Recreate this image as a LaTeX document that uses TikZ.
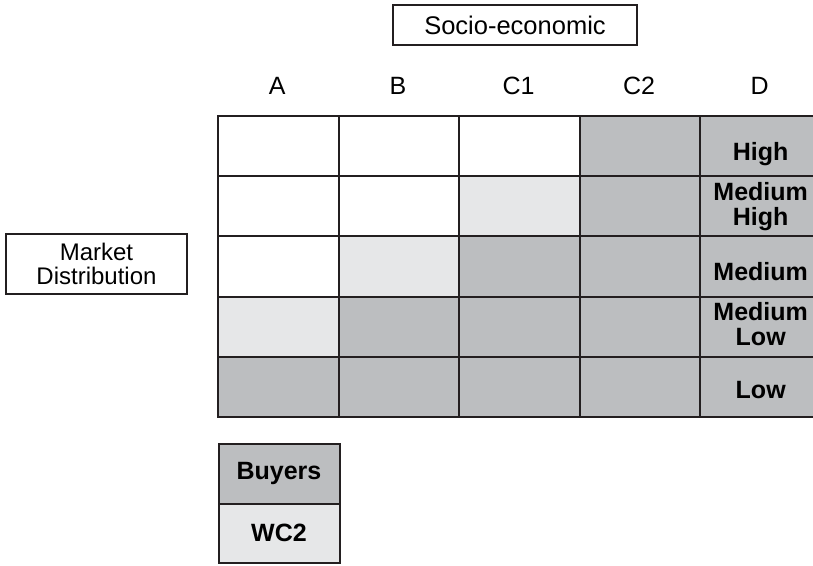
\documentclass[tikz,border=0pt]{standalone}
\usepackage{fontspec}
\setmainfont{Liberation Sans}
\definecolor{dk}{HTML}{BCBEC0}
\definecolor{lt}{HTML}{E6E7E8}
\definecolor{ln}{HTML}{231F20}
\begin{document}
\begin{tikzpicture}[x=1pt,y=-1pt,
  cell/.style={draw=ln, line width=2pt, minimum width=120.6pt, minimum height=60.2pt,
    inner sep=0pt, anchor=north west},
  dlab/.style={anchor=base, font=\fontsize{25}{25}\selectfont\bfseries},
  dlab2/.style={anchor=center, align=center, inner sep=0pt, font=\fontsize{25}{25}\selectfont\bfseries},
  lbox/.style={draw=ln, line width=1.3pt, inner sep=0pt, align=center,
    font=\fontsize{24}{24}\selectfont},
  collab/.style={anchor=base, font=\fontsize{25}{25}\selectfont},
  keybox/.style={draw=ln, line width=2pt, minimum width=121pt, minimum height=59.5pt,
    inner sep=0pt, anchor=north west, font=\fontsize{25}{25}\selectfont\bfseries}]
\useasboundingbox (0,0) rectangle (813,565);
\clip (0,0) rectangle (813,565);
% grid cells
\foreach \r/\c/\f in {0/0/white,0/1/white,0/2/white,0/3/dk,0/4/dk,
                      1/0/white,1/1/white,1/2/lt,1/3/dk,1/4/dk,
                      2/0/white,2/1/lt,2/2/dk,2/3/dk,2/4/dk,
                      3/0/lt,3/1/dk,3/2/dk,3/3/dk,3/4/dk,
                      4/0/dk,4/1/dk,4/2/dk,4/3/dk,4/4/dk}
  \node[cell, fill=\f] (c\r\c) at ({217+120.6*\c},{115+60.2*\r}) {};
% row labels in column D
\node[dlab] (lh)  at ([yshift=-14pt]c04.center) {High};
\node[dlab2] (lmh) at (c14.center) {Medium\\High};
\node[dlab] (lm)  at ([yshift=-14pt]c24.center) {Medium};
\node[dlab2] (lml) at ([yshift=3pt]c34.center) {Medium\\Low};
\node[dlab] (ll)  at ([yshift=-12pt]c44.center) {Low};
% column headings
\foreach \c/\t in {0/A,1/B,2/C1,3/C2,4/D}
  \node[collab] (h\c) at ({277.3+120.6*\c},94) {\t};
% axis labels
\node[lbox, minimum width=244pt, minimum height=40pt, font=\fontsize{25.5}{25.5}\selectfont] (socio) at (515,25) {Socio-economic};
\node[lbox, minimum width=181pt, minimum height=60pt] (market) at (96.5,264) {Market\\Distribution};
% key
\node[keybox, fill=dk] (buyers) at (217.5,443) {Buyers};
\node[keybox, fill=lt] (wc2) at (217.5,502.5) {WC2};
\end{tikzpicture}
\end{document}
